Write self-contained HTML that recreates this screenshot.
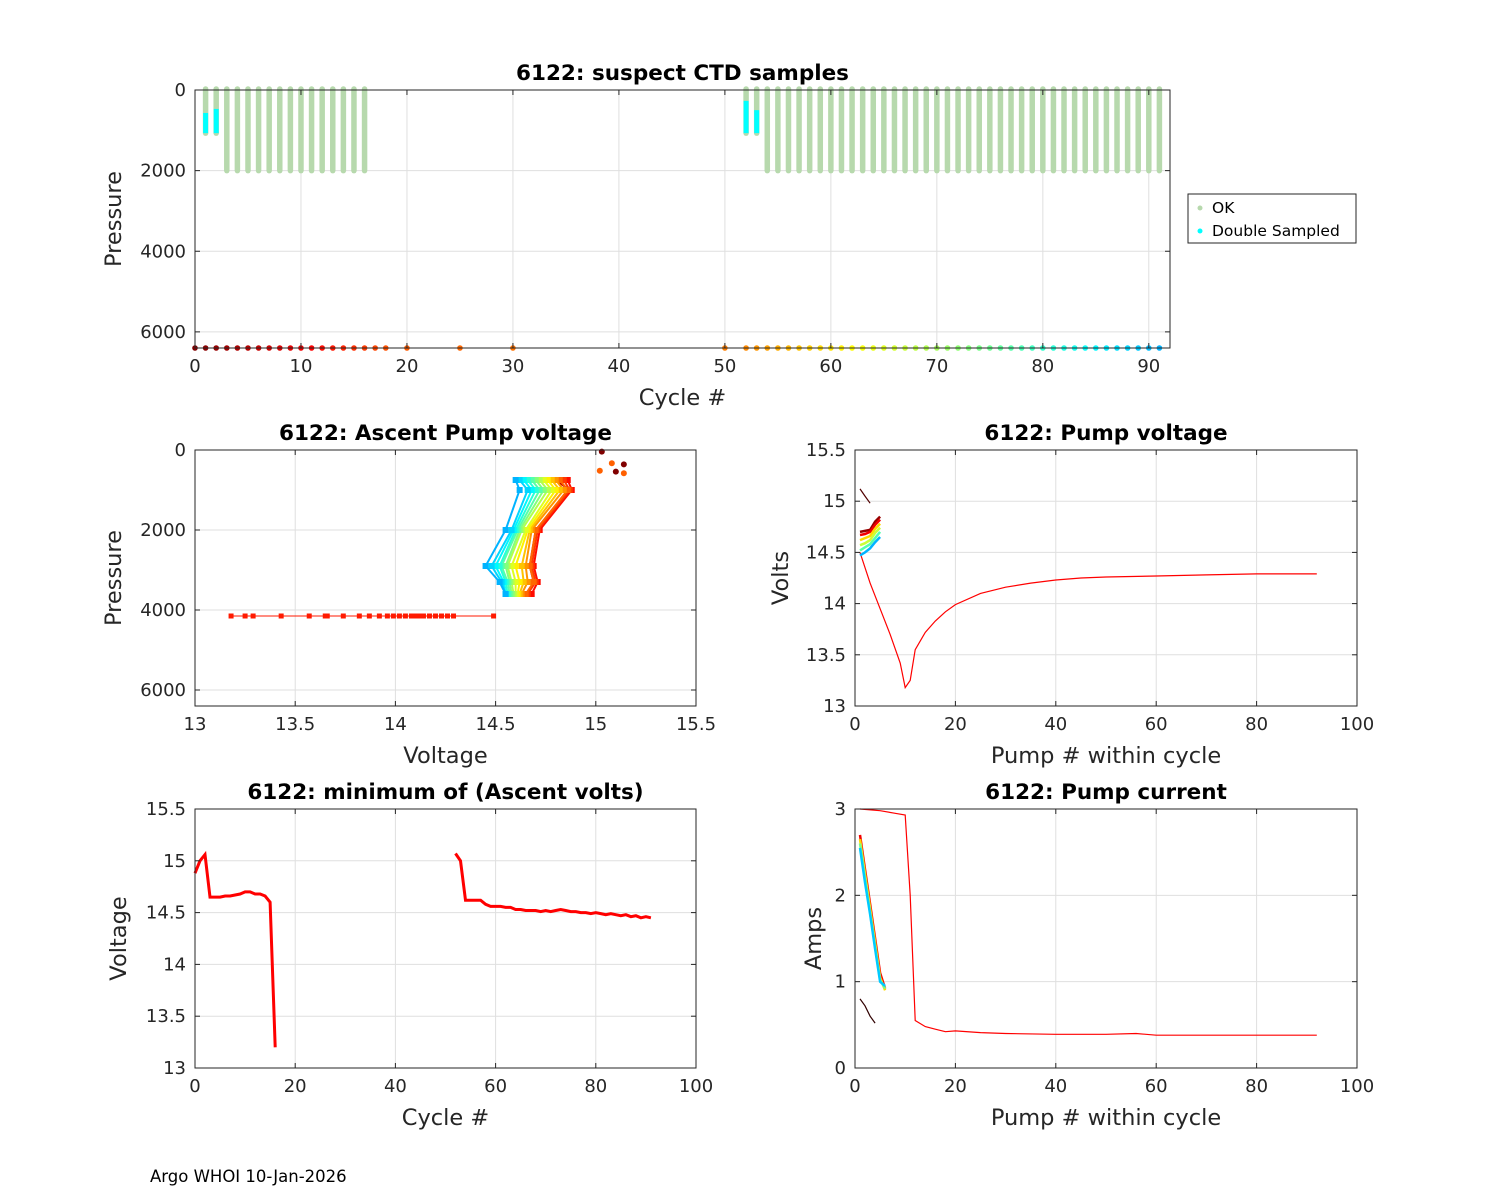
<!DOCTYPE html>
<html><head><meta charset="utf-8">
<style>
body{margin:0;background:#fff;}
svg{display:block;font-family:"DejaVu Sans","Liberation Sans",sans-serif;}
</style></head>
<body>
<svg id="fig" width="1500" height="1200" viewBox="0 0 1500 1200"></svg>
<script>
// ---------- DATA ----------
const barCycles = [1,2,3,4,5,6,7,8,9,10,11,12,13,14,15,16,52,53,54,55,56,57,58,59,60,61,62,63,64,65,66,67,68,69,70,71,72,73,74,75,76,77,78,79,80,81,82,83,84,85,86,87,88,89,90,91];
const barBottom = [1070,1070,2000,2000,2000,2000,2000,2000,2000,2000,2000,2000,2000,2000,2000,2000,1070,1070,2000,2000,2000,2000,2000,2000,2000,2000,2000,2000,2000,2000,2000,2000,2000,2000,2000,2000,2000,2000,2000,2000,2000,2000,2000,2000,2000,2000,2000,2000,2000,2000,2000,2000,2000,2000,2000,2000];
const dsCycles = [1,2,52,53];
const dsTop = [570,470,270,500];
const dsBottom = [1070,1070,1070,1070];
const profCycles = [0,1,2,3,4,5,6,7,8,9,10,11,12,13,14,15,16,17,18,20,25,30,50,52,53,54,55,56,57,58,59,60,61,62,63,64,65,66,67,68,69,70,71,72,73,74,75,76,77,78,79,80,81,82,83,84,85,86,87,88,89,90,91];
const flatVolts = [13.18,13.25,13.29,13.43,13.57,13.65,13.66,13.74,13.82,13.87,13.92,13.96,13.99,14.02,14.05,14.08,14.1,14.12,14.14,14.17,14.2,14.23,14.26,14.29,14.49];
const flatPressure = 4150;
const profPressures = [750,1000,2000,2900,3300,3600];
const profVolts = [
 [14.80,14.87,14.70,14.67,14.69,14.66],
 [14.86,14.88,14.72,14.69,14.71,14.68],
 [14.84,14.87,14.71,14.68,14.70,14.66],
 [14.82,14.86,14.70,14.67,14.69,14.65],
 [14.80,14.84,14.68,14.65,14.66,14.63],
 [14.78,14.82,14.67,14.63,14.64,14.62],
 [14.76,14.80,14.66,14.60,14.62,14.61],
 [14.74,14.78,14.65,14.58,14.60,14.60],
 [14.72,14.76,14.63,14.56,14.58,14.59],
 [14.70,14.74,14.62,14.55,14.57,14.58],
 [14.68,14.72,14.61,14.53,14.56,14.57],
 [14.66,14.70,14.60,14.52,14.55,14.56],
 [14.64,14.68,14.59,14.50,14.54,14.55],
 [14.62,14.66,14.58,14.48,14.53,14.55],
 [14.60,14.62,14.55,14.45,14.52,14.55]];
const profIdx = [6,12,16,20,24,28,32,36,40,44,48,52,56,59,62];
const topDotsV = [[15.03,40],[15.08,330],[15.14,360],[15.02,520],[15.1,540],[15.14,580]];
const pumpN = [1,3,5,7,9,10,11,12,14,16,18,20,25,30,35,40,45,50,60,70,80,92];
const pumpV = [14.5,14.2,13.95,13.7,13.42,13.18,13.25,13.55,13.72,13.83,13.92,13.99,14.1,14.16,14.2,14.23,14.25,14.26,14.27,14.28,14.29,14.29];
const clusterN = [1,2,3,4,5];
const clusterV = [
 [14.70,14.71,14.72,14.80,14.85],
 [14.67,14.68,14.70,14.77,14.82],
 [14.62,14.64,14.66,14.73,14.78],
 [14.57,14.59,14.62,14.69,14.74],
 [14.52,14.55,14.58,14.64,14.70],
 [14.47,14.50,14.54,14.60,14.65]];
const clusterIdx = [2,10,30,38,48,62];
const earlyN = [1,2,3];
const earlyV = [15.12,15.05,14.98];
const minCycA = [0,1,2,3,4,5,6,7,8,9,10,11,12,13,14,15,16];
const minVoltA = [14.88,15.0,15.06,14.65,14.65,14.65,14.66,14.66,14.67,14.68,14.7,14.7,14.68,14.68,14.66,14.6,13.2];
const minCycB = [52,53,54,55,56,57,58,59,60,61,62,63,64,65,66,67,68,69,70,71,72,73,74,75,76,77,78,79,80,81,82,83,84,85,86,87,88,89,90,91];
const minVoltB = [15.07,15.0,14.62,14.62,14.62,14.62,14.58,14.56,14.56,14.56,14.55,14.55,14.53,14.53,14.52,14.52,14.52,14.51,14.52,14.51,14.52,14.53,14.52,14.51,14.51,14.5,14.5,14.49,14.5,14.49,14.48,14.49,14.48,14.47,14.48,14.46,14.47,14.45,14.46,14.45];
const curN = [1,5,8,10,11,12,14,16,18,20,25,30,40,50,56,60,70,80,92];
const curA = [3.0,2.98,2.95,2.93,2.0,0.55,0.48,0.45,0.42,0.43,0.41,0.4,0.39,0.39,0.4,0.38,0.38,0.38,0.38];
const curClusterN = [1,2,3,4,5,6];
const curClusterA = [
 [2.7,2.3,1.9,1.5,1.1,0.92],
 [2.65,2.25,1.85,1.45,1.05,0.9],
 [2.6,2.2,1.8,1.4,1.02,0.92],
 [2.55,2.15,1.78,1.38,1.0,0.95]];
const curClusterIdx = [10,30,45,60];
const curEarlyN = [1,2,3,4];
const curEarlyA = [0.8,0.72,0.6,0.52];

// ---------- helpers ----------
const NS="http://www.w3.org/2000/svg";
const svg=document.getElementById('fig');
function mk(tag,attrs,parent){const e=document.createElementNS(NS,tag);for(const k in attrs)e.setAttribute(k,attrs[k]);(parent||svg).appendChild(e);return e;}
function jet(t){t=Math.max(0,Math.min(1,t));
 function f(x){return Math.max(0,Math.min(1,x));}
 const r=f(Math.min(4*t-1.5,-4*t+4.5)),g=f(Math.min(4*t-0.5,-4*t+3.5)),b=f(Math.min(4*t+0.5,-4*t+2.5));
 return `rgb(${Math.round(r*255)},${Math.round(g*255)},${Math.round(b*255)})`;}
function idxColor(i){return jet(1-0.7*i/62);}
function makeAxes(o){
 const g=mk('g',{});
 
 
 const sx=v=>o.x+(v-o.xmin)/(o.xmax-o.xmin)*o.w;
 const sy=o.rev?(v=>o.y+(v-o.ymin)/(o.ymax-o.ymin)*o.h):(v=>o.y+o.h-(v-o.ymin)/(o.ymax-o.ymin)*o.h);
 mk('rect',{x:o.x,y:o.y,width:o.w,height:o.h,fill:'#fff'},g);
 o.xt.forEach(v=>{const X=sx(v);mk('line',{x1:X,x2:X,y1:o.y,y2:o.y+o.h,stroke:'#dfdfdf','stroke-width':1},g);});
 o.yt.forEach(v=>{const Y=sy(v);mk('line',{x1:o.x,x2:o.x+o.w,y1:Y,y2:Y,stroke:'#dfdfdf','stroke-width':1},g);});
 const plot=mk('g',{},g);
 
 
 const frame=mk('g',{},g);
 mk('rect',{x:o.x,y:o.y,width:o.w,height:o.h,fill:'none',stroke:'#262626','stroke-width':1},frame);
 o.xt.forEach((v,i)=>{const X=sx(v);
  mk('line',{x1:X,x2:X,y1:o.y+o.h,y2:o.y+o.h-5,stroke:'#262626'},frame);
  mk('line',{x1:X,x2:X,y1:o.y,y2:o.y+5,stroke:'#262626'},frame);
  const t=mk('text',{x:X,y:o.y+o.h+24,'text-anchor':'middle','font-size':18,fill:'#262626'},frame);t.textContent=o.xl[i];
  
  });
 o.yt.forEach((v,i)=>{const Y=sy(v);
  mk('line',{x1:o.x,x2:o.x+5,y1:Y,y2:Y,stroke:'#262626'},frame);
  mk('line',{x1:o.x+o.w,x2:o.x+o.w-5,y1:Y,y2:Y,stroke:'#262626'},frame);
  const t=mk('text',{x:o.x-9,y:Y+6,'text-anchor':'end','font-size':18,fill:'#262626'},frame);t.textContent=o.yl[i];
  
  });
 const tt=mk('text',{x:o.x+o.w/2,y:o.y-10,'text-anchor':'middle','font-size':21.5,'font-weight':'bold',fill:'#000'},frame);tt.textContent=o.title;
 
 
 const xlab=mk('text',{x:o.x+o.w/2,y:o.y+o.h+57,'text-anchor':'middle','font-size':22.5,fill:'#262626'},frame);xlab.textContent=o.xlabel;
 
 
 const yx=o.ylx, yy=o.y+o.h/2;
 const ylab=mk('text',{x:yx,y:yy,'text-anchor':'middle','font-size':22.5,fill:'#262626',transform:`rotate(-90 ${yx} ${yy})`},frame);ylab.textContent=o.ylabel;
 
 
 g.appendChild(frame);
 return {sx,sy,plot,frame};
}
function poly(ax,xs,ys,attrs){const pts=xs.map((x,i)=>ax.sx(x).toFixed(1)+','+ax.sy(ys[i]).toFixed(1)).join(' ');
 return mk('polyline',Object.assign({points:pts,fill:'none'},attrs),ax.plot);}

// ---------- top chart ----------
const A1=makeAxes({name:'suspect-ctd-chart',x:195,y:90,w:975,h:258,xmin:0,xmax:92,ymin:0,ymax:6400,rev:true,
 xt:[0,10,20,30,40,50,60,70,80,90],xl:['0','10','20','30','40','50','60','70','80','90'],
 yt:[0,2000,4000,6000],yl:['0','2000','4000','6000'],title:'6122: suspect CTD samples',xlabel:'Cycle #',ylabel:'Pressure',ylx:121});
barCycles.forEach((c,i)=>{const l=mk('line',{x1:A1.sx(c),x2:A1.sx(c),y1:A1.sy(0)-1,y2:A1.sy(barBottom[i]),stroke:'#b7d9ad','stroke-width':5.5,'stroke-linecap':'round'},A1.plot);
 
 });
dsCycles.forEach((c,i)=>{const l=mk('line',{x1:A1.sx(c),x2:A1.sx(c),y1:A1.sy(dsTop[i]),y2:A1.sy(dsBottom[i]),stroke:'#00ffff','stroke-width':5},A1.plot);
 
 });
profCycles.forEach((c,i)=>{const d=mk('circle',{cx:A1.sx(c),cy:A1.sy(6400),r:2.8,fill:idxColor(i)},A1.plot);
 
 });
const lg=mk('g',{});


mk('rect',{x:1188,y:194,width:168,height:49,fill:'#fff',stroke:'#262626'},lg);
mk('circle',{cx:1200,cy:208,r:2.5,fill:'#b7d9ad'},lg);
mk('circle',{cx:1200,cy:231,r:2.5,fill:'#00ffff'},lg);
let t=mk('text',{x:1212,y:213,'font-size':15.5,fill:'#000'},lg);t.textContent='OK';


t=mk('text',{x:1212,y:236,'font-size':15.5,fill:'#000'},lg);t.textContent='Double Sampled';



// ---------- ascent pump voltage ----------
const A2=makeAxes({name:'ascent-pump-voltage-chart',x:195,y:450,w:501,h:256,xmin:13,xmax:15.5,ymin:0,ymax:6400,rev:true,
 xt:[13,13.5,14,14.5,15,15.5],xl:['13','13.5','14','14.5','15','15.5'],
 yt:[0,2000,4000,6000],yl:['0','2000','4000','6000'],title:'6122: Ascent Pump voltage',xlabel:'Voltage',ylabel:'Pressure',ylx:121});
poly(A2,flatVolts,flatVolts.map(()=>flatPressure),{stroke:'#ff1a00','stroke-width':1});
flatVolts.forEach(v=>{mk('rect',{x:A2.sx(v)-2.5,y:A2.sy(flatPressure)-2.5,width:5,height:5,fill:'#ff1a00'},A2.plot);});
profVolts.forEach((vs,k)=>{const col=idxColor(profIdx[k]);
 const p=poly(A2,vs,profPressures,{stroke:col,'stroke-width':2});
 
 
 vs.forEach((v,j)=>mk('rect',{x:A2.sx(v)-3,y:A2.sy(profPressures[j])-3,width:6,height:6,fill:col},A2.plot));});
topDotsV.forEach((d,k)=>{mk('circle',{cx:A2.sx(d[0]),cy:A2.sy(d[1]),r:3,fill:k%2?'#ff6000':'#800000'},A2.plot);});

// ---------- pump voltage ----------
const A3=makeAxes({name:'pump-voltage-chart',x:855,y:450,w:502,h:256,xmin:0,xmax:100,ymin:13,ymax:15.5,rev:false,
 xt:[0,20,40,60,80,100],xl:['0','20','40','60','80','100'],
 yt:[13,13.5,14,14.5,15,15.5],yl:['13','13.5','14','14.5','15','15.5'],title:'6122: Pump voltage',xlabel:'Pump # within cycle',ylabel:'Volts',ylx:788});
poly(A3,pumpN,pumpV,{stroke:'#ff0000','stroke-width':1.2});
clusterV.forEach((vs,k)=>{const p=poly(A3,clusterN,vs,{stroke:idxColor(clusterIdx[k]),'stroke-width':2.5});
 
 });
poly(A3,earlyN,earlyV,{stroke:'#500000','stroke-width':1.2});

// ---------- min ascent volts ----------
const A4=makeAxes({name:'min-ascent-volts-chart',x:195,y:809,w:501,h:259,xmin:0,xmax:100,ymin:13,ymax:15.5,rev:false,
 xt:[0,20,40,60,80,100],xl:['0','20','40','60','80','100'],
 yt:[13,13.5,14,14.5,15,15.5],yl:['13','13.5','14','14.5','15','15.5'],title:'6122: minimum of (Ascent volts)',xlabel:'Cycle #',ylabel:'Voltage',ylx:126});
poly(A4,minCycA,minVoltA,{stroke:'#ff0000','stroke-width':3});
poly(A4,minCycB,minVoltB,{stroke:'#ff0000','stroke-width':3});

// ---------- pump current ----------
const A5=makeAxes({name:'pump-current-chart',x:855,y:809,w:502,h:259,xmin:0,xmax:100,ymin:0,ymax:3,rev:false,
 xt:[0,20,40,60,80,100],xl:['0','20','40','60','80','100'],
 yt:[0,1,2,3],yl:['0','1','2','3'],title:'6122: Pump current',xlabel:'Pump # within cycle',ylabel:'Amps',ylx:821});
poly(A5,curN,curA,{stroke:'#ff0000','stroke-width':1.2});
curClusterA.forEach((as,k)=>{const p=poly(A5,curClusterN,as,{stroke:idxColor(curClusterIdx[k]),'stroke-width':2.5});
 
 });
poly(A5,curEarlyN,curEarlyA,{stroke:'#300000','stroke-width':1.2});

const ft=mk('text',{x:150,y:1182,'font-size':16.5,fill:'#000'});ft.textContent='Argo WHOI 10-Jan-2026';


</script>
</body></html>
